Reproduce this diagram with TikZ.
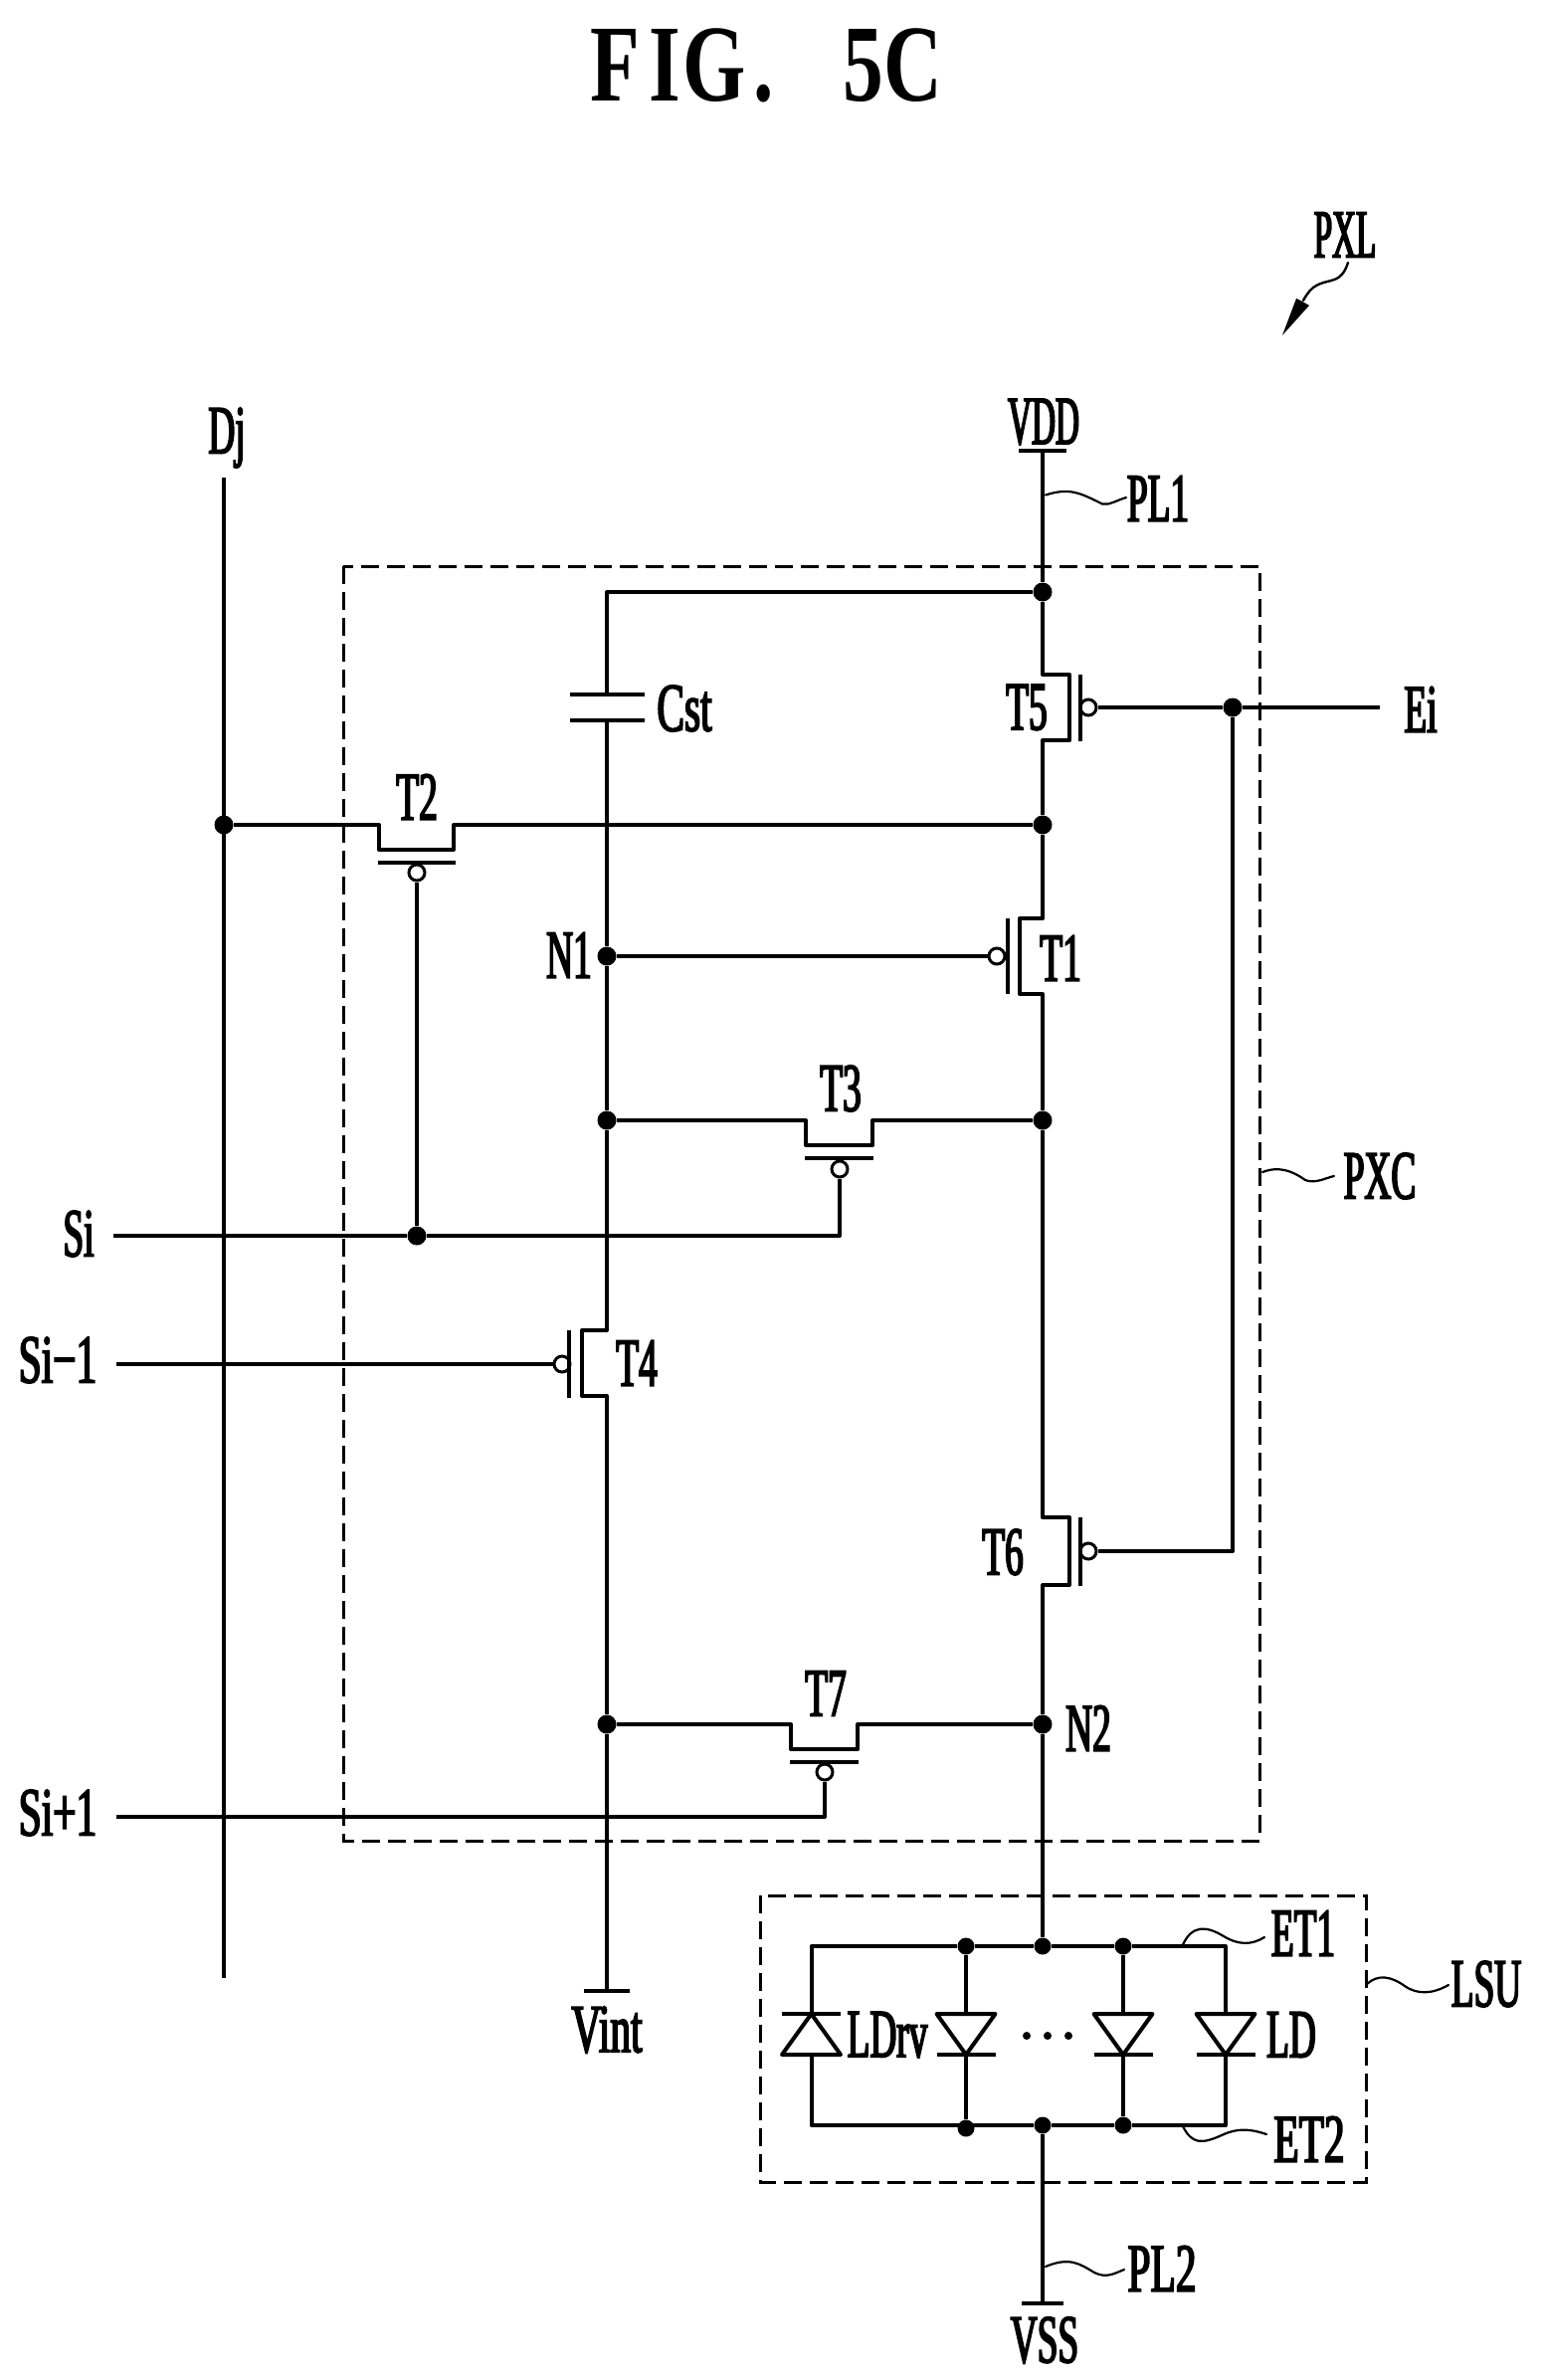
\documentclass[tikz,border=0pt]{standalone}
\usepackage{fontspec}
\setmainfont{Liberation Serif}
\newfontfamily\lblfont[FakeStretch=0.54,FakeBold=2.5]{Liberation Serif}
\newfontfamily\lblnarrow[FakeStretch=0.48,FakeBold=2.5]{Liberation Serif}
\newfontfamily\lblwide[FakeStretch=0.6,FakeBold=2.5]{Liberation Serif}
\newfontfamily\ttlfont[FakeStretch=0.74]{Liberation Serif}
\newcommand{\cell}[1]{\makebox[25pt]{#1}}
\tikzset{
  wire/.style={line width=2pt,line join=round},
  thin lead/.style={line width=1.1pt,line cap=round},
  box/.style={line width=1.5pt,dash pattern=on 9pt off 4pt},
  dot/.style={circle,fill=black,inner sep=0pt,minimum size=9.5pt},
  smalldot/.style={circle,fill=black,inner sep=0pt,minimum size=8.5pt},
  bub/.style={circle,draw=black,fill=white,line width=1.5pt,inner sep=0pt,minimum size=8pt},
  lbl/.style={font=\lblfont\fontsize{34.5}{34.5}\selectfont,inner sep=0pt},
  lbln/.style={font=\lblnarrow\fontsize{34.5}{34.5}\selectfont,inner sep=0pt},
  lblw/.style={font=\lblwide\fontsize{34.5}{34.5}\selectfont,inner sep=0pt},
  ttl/.style={font=\ttlfont\bfseries\fontsize{55}{55}\selectfont,inner sep=0pt}
}
\begin{document}
\begin{tikzpicture}[x=0.5pt,y=-0.5pt]
\useasboundingbox (0,0) rectangle (1549,2392);
\node[ttl] (title) at (768,66) {\cell{F}\cell{I}\cell{G}\cell{.}\cell{ }\cell{5}\cell{C}};
% dashed boxes
\draw[box] (345,569) rectangle (1266,1850);
\draw[box] (764,1905) rectangle (1373,2193);
% junctions
\node[dot] (jDj) at (225,829) {};
\node[dot] (jTop) at (1048,595) {};
\node[dot] (jT2) at (1048,829) {};
\node[dot] (jN1) at (610,961) {};
\node[dot] (jT3L) at (610,1126) {};
\node[dot] (jT3R) at (1048,1126) {};
\node[dot] (jSi) at (419,1242) {};
\node[dot] (jT7L) at (610,1733) {};
\node[dot] (jN2) at (1048,1733) {};
\node[dot] (jE) at (1239,711) {};
\node[smalldot] (a1) at (971,1956) {};
\node[smalldot] (a2) at (1048,1956) {};
\node[smalldot] (a3) at (1129,1956) {};
\node[smalldot] (b1) at (971,2139) {};
\node[smalldot] (b2) at (1048,2136) {};
\node[smalldot] (b3) at (1129,2136) {};
% free ends
\coordinate (DjT) at (225,480);
\coordinate (DjB) at (225,1988);
\coordinate (VDD) at (1048,453);
\coordinate (VSS) at (1048,2315);
\coordinate (Vint) at (610,2001);
\coordinate (CapT) at (610,698);
\coordinate (CapB) at (610,724);
\coordinate (SiL) at (114,1242);
\coordinate (SimL) at (117,1371);
\coordinate (SipL) at (117,1826);
\coordinate (EiR) at (1387,711);
\coordinate (SipG) at (829,1826);
\coordinate (SiG) at (844,1242);
\coordinate (T6G) at (1239,1559);
% gate bubbles
\node[bub] (bT2) at (419,877) {};
\node[bub] (bT3) at (844,1175) {};
\node[bub] (bT7) at (829,1781) {};
\node[bub] (bT5) at (1094,711) {};
\node[bub] (bT6) at (1094,1559) {};
\node[bub] (bT1) at (1002,961) {};
\node[bub] (bT4) at (565,1371) {};
% vertical rails and source-drain paths
\draw[wire] (DjT) -- (DjB);
\draw[wire] (VDD) -- (jTop);
\draw[wire] (VDD) ++(-24,0) -- ++(48,0);
\draw[wire] (jTop) -- (610,595) -- (CapT);
\draw[wire] (CapT) ++(-37,0) -- ++(75,0);
\draw[wire] (CapB) ++(-37,0) -- ++(75,0);
\draw[wire] (CapB) -- (jN1);
\draw[wire] (jN1) -- (jT3L);
\draw[wire] (jT3L) -- (610,1337) -- (585,1337) -- (585,1403) -- (610,1403) -- (jT7L);
\draw[wire] (jT7L) -- (Vint);
\draw[wire] (Vint) ++(-23,0) -- ++(46,0);
\draw[wire] (jTop) -- (1048,678) -- (1075,678) -- (1075,744) -- (1048,744) -- (jT2);
\draw[wire] (jT2) -- (1048,923) -- (1025,923) -- (1025,999) -- (1048,999) -- (jT3R);
\draw[wire] (jT3R) -- (1048,1525) -- (1075,1525) -- (1075,1593) -- (1048,1593) -- (jN2);
\draw[wire] (jN2) -- (a2);
\draw[wire] (b2) -- (VSS);
\draw[wire] (VSS) ++(-21,0) -- ++(42,0);
% horizontal rows
\draw[wire] (jDj) -- (381,829) -- (381,854) -- (456,854) -- (456,829) -- (jT2);
\draw[wire] (jT3L) -- (810,1126) -- (810,1151) -- (877,1151) -- (877,1126) -- (jT3R);
\draw[wire] (jT7L) -- (795,1733) -- (795,1758) -- (862,1758) -- (862,1733) -- (jN2);
\draw[wire] (jN1) -- (bT1);
\draw[wire] (SiL) -- (jSi);
\draw[wire] (jSi) -- (SiG) -- (bT3);
\draw[wire] (jSi) -- (bT2);
\draw[wire] (SimL) -- (bT4);
\draw[wire] (SipL) -- (SipG) -- (bT7);
\draw[wire] (bT5) -- (jE);
\draw[wire] (jE) -- (EiR);
\draw[wire] (jE) -- (T6G) -- (bT6);
% gate plates
\draw[wire] (380,867) -- (458,867);
\draw[wire] (809,1164) -- (878,1164);
\draw[wire] (794,1771) -- (863,1771);
\draw[wire] (1086,678) -- (1086,745);
\draw[wire] (1086,1525) -- (1086,1594);
\draw[wire] (1013,923) -- (1013,999);
\draw[wire] (572,1337) -- (572,1405);
% LED unit
\draw[wire] (a1) -- (a2) -- (a3);
\draw[wire] (b1 |- b2) -- (b2) -- (b3);
\draw[wire] (a1) -- (815.5,1956) -- (815.5,2024);
\draw[wire] (815.5,2065) -- (815.5,2136) -- (b1 |- b2);
\draw[wire] (a3) -- (1232,1956) -- (1232,2024);
\draw[wire] (1232,2065) -- (1232,2136) -- (b3);
\draw[wire] (a1) -- (971,2024); \draw[wire] (971,2065) -- (b1);
\draw[wire] (a3) -- (1129,2024); \draw[wire] (1129,2065) -- (b3);
% reverse diode
\draw[wire] (786,2024) -- (845,2024);
\draw[wire] (815.5,2024) -- (786,2065) -- (845,2065) -- cycle;
% forward diodes
\foreach \x in {971,1129,1232}{
  \draw[wire] (\x-29.5,2065) -- (\x+29.5,2065);
  \draw[wire] (\x,2065) -- (\x-29.5,2024) -- (\x+29.5,2024) -- cycle;
}
\foreach \x in {1032,1053,1074}{\fill (\x,2046) circle (2pt);}
% leaders
\draw[thin lead] (1051,497.5) .. controls (1075,490) and (1085,495) .. (1108,506.5) .. controls (1115,508) and (1122,503) .. (1132,500);
\draw[thin lead] (1269,1178) .. controls (1285,1172) and (1298,1176) .. (1312,1186) .. controls (1322,1190) and (1332,1184) .. (1341,1182);
\draw[thin lead] (1189,1954.5) .. controls (1198,1935) and (1212,1935) .. (1230,1946) .. controls (1245,1955) and (1258,1955) .. (1271,1947);
\draw[thin lead] (1189,2137) .. controls (1198,2155) and (1208,2155) .. (1228,2146) .. controls (1245,2138) and (1258,2140) .. (1273,2145);
\draw[thin lead] (1374,1994) .. controls (1385,1984) and (1398,1986) .. (1412,1996) .. controls (1425,2005) and (1440,2004) .. (1456,1995);
\draw[thin lead] (1051,2278) .. controls (1075,2268) and (1085,2275) .. (1100,2284) .. controls (1112,2290) and (1120,2285) .. (1130,2281);
% PXL arrow
\draw[thin lead,line width=1.2pt] (1355,264) .. controls (1348,285) and (1338,280) .. (1325,286) .. controls (1318,289) and (1314,295) .. (1310,302);
\fill (1289,337) -- (1303,300) -- (1309,303) -- (1316,307) -- cycle;
% labels
\node[lbln] (lPXL) at (1352,236) {PXL};
\node[lbln] (lVDD) at (1049,424) {VDD};
\node[lbl] (lPL1) at (1164,501) {PL1};
\node[lbl] (lDj) at (228,440) {Dj};
\node[lblw] (lCst) at (688,712) {Cst};
\node[lbl] (lT5) at (1032,711) {T5};
\node[lbl] (lEi) at (1428,713) {Ei};
\node[lbl] (lT2) at (419,801) {T2};
\node[lbl] (lN1) at (572,960) {N1};
\node[lbl] (lT1) at (1066,963) {T1};
\node[lbl] (lT3) at (845,1094) {T3};
\node[lbl] (lPXC) at (1387,1182) {PXC};
\node[lbl] (lSi) at (79,1240) {Si};
\node[lblw] (lSim) at (58,1367) {Si−1};
\node[lbl] (lT4) at (640,1370) {T4};
\node[lbl] (lT6) at (1008,1560) {T6};
\node[lbl] (lT7) at (830,1702) {T7};
\node[lbl] (lN2) at (1094,1737) {N2};
\node[lblw] (lSip) at (58,1822) {Si+1};
\node[lbl] (lET1) at (1310,1943) {ET1};
\node[lbl] (lLSU) at (1494,1994) {LSU};
\node[lbl] (lLDrv) at (892,2045) {LDrv};
\node[lbl] (lLD) at (1298,2045) {LD};
\node[lblw] (lET2) at (1316,2150) {ET2};
\node[lblw] (lVint) at (610,2040) {Vint};
\node[lblw] (lPL2) at (1168,2280) {PL2};
\node[lbl] (lVSS) at (1050,2352) {VSS};
\end{tikzpicture}
\end{document}
